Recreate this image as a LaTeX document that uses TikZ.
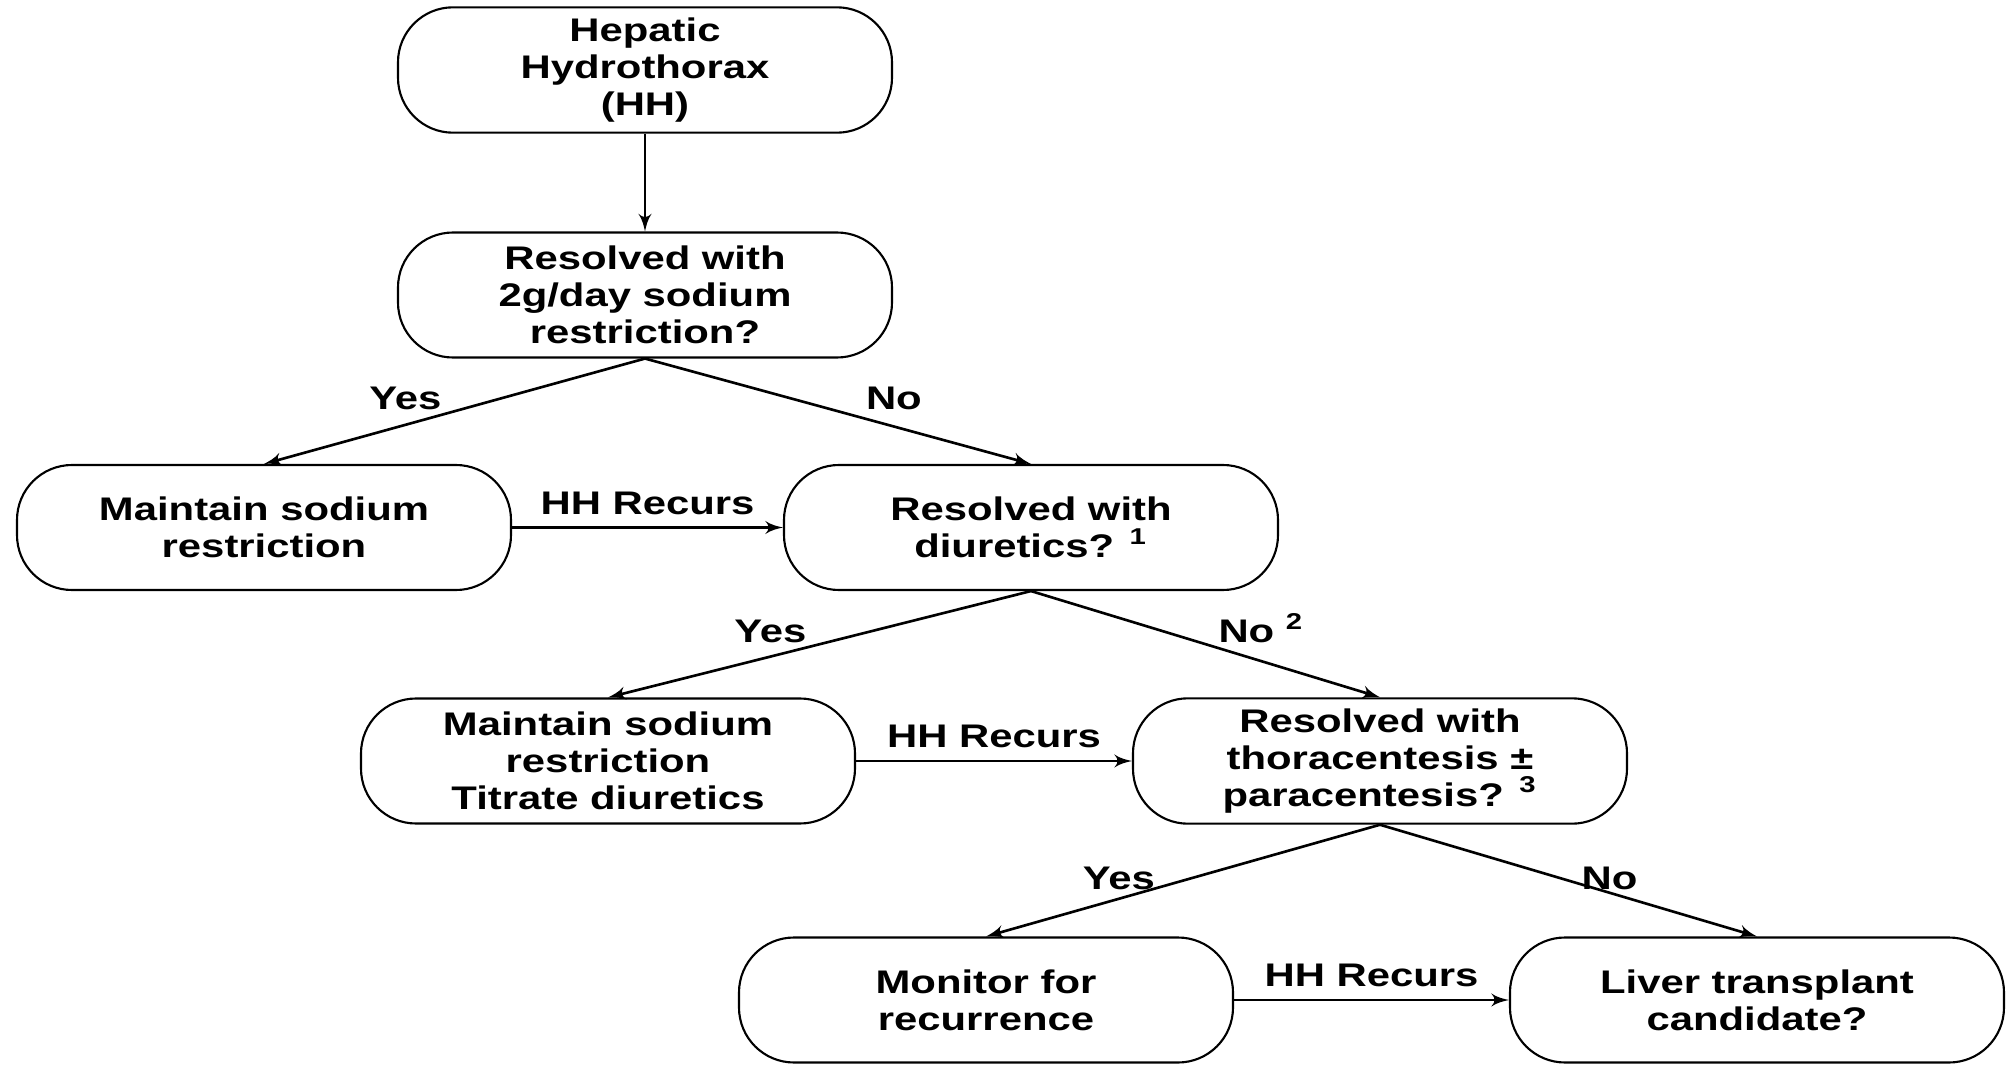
\documentclass[tikz,border=0pt]{standalone}
\usepackage{fontspec}
\setmainfont{Liberation Sans}[FakeStretch=1.28]
\usepackage{tikz}
\usetikzlibrary{shapes,arrows}
\tikzstyle{line} = [draw, line width=0.75pt, -latex']
\tikzstyle{box} = [rectangle, draw, line width=0.6pt, rounded corners=0.55cm, minimum width=4.94cm, minimum height=1.25cm, inner sep=3pt, align=center, font=\fontsize{9.3}{10.5}\selectfont\bfseries]
\tikzstyle{lab} = [font=\fontsize{9.3}{10.5}\selectfont\bfseries]
\tikzstyle{dlab} = [lab, yshift=-0.12cm]

\begin{document}
\begin{tikzpicture}
	\useasboundingbox (0,0) rectangle (20.08,10.64);
	
	\node [box] at (6.45,9.94) (hh) {Hepatic\\Hydrothorax\\(HH)};
	\node [box, below of = hh, node distance = 2.25cm] (q1) {Resolved with\\2g/day sodium\\restriction?};
	\node [box, below of = q1, node distance = 2.325cm, xshift = -3.81cm] (keep1) {Maintain sodium\\restriction};
	\node [box, below of = q1, node distance = 2.325cm, xshift = 3.86cm] (q2) {Resolved with\\diuretics? \textsuperscript{1}};
	\node [box, below of = q2, node distance = 2.335cm, xshift = -4.23cm] (keep2) {Maintain sodium\\restriction\\Titrate diuretics};
	\node [box, below of = q2, node distance = 2.335cm, xshift = 3.49cm] (q3) {Resolved with\\thoracentesis ±\\paracentesis? \textsuperscript{3}};
	\node [box, below of = q3, node distance = 2.39cm, xshift = -3.94cm] (mon) {Monitor for\\recurrence};
	\node [box, below of = q3, node distance = 2.39cm, xshift = 3.77cm] (liver) {Liver transplant\\candidate?};
	
	\path [line] (hh.south) -- (q1.north);
	
	\path [line] (q1.south) -- node [dlab, above left] {Yes} (keep1.north);
	\path [line] (q1.south) -- node [dlab, above right, xshift=0.15cm] {No} (q2.north);
	\path [line] (keep1.east) -- node [lab, above] {HH Recurs} (q2.west);
	
	\path [line] (q2.south) -- node [dlab, above left] {Yes} (keep2.north);
	\path [line] (q2.south) -- node [dlab, above right] {No \textsuperscript{2}} (q3.north);
	\path [line] (keep2.east) -- node [lab, above] {HH Recurs} (q3.west);
	
	\path [line] (q3.south) -- node [dlab, above left, yshift=-0.1cm, xshift=-0.15cm] {Yes} (mon.north);
	\path [line] (q3.south) -- node [dlab, above right, yshift=-0.1cm] {No} (liver.north);
	\path [line] (mon.east) -- node [lab, above] {HH Recurs} (liver.west);
\end{tikzpicture}
\end{document}
